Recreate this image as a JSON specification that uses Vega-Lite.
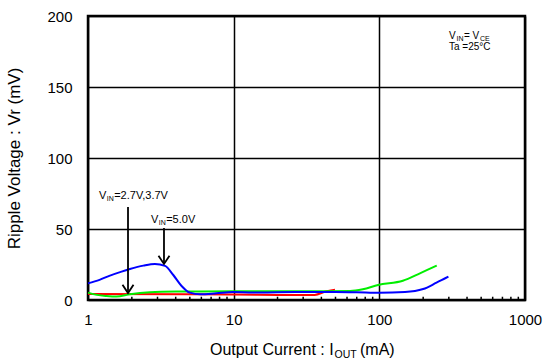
{
  "$schema": "https://vega.github.io/schema/vega-lite/v6.json",
  "width": 437,
  "height": 284,
  "autosize": {"type": "none"},
  "padding": {"left": 88, "top": 16, "right": 20, "bottom": 64},
  "background": "white",
  "config": {
    "view": {"stroke": "black", "strokeWidth": 2.5},
    "font": "Liberation Sans",
    "text": {"font": "Liberation Sans", "color": "black"}
  },
  "datasets": {
    "curves": [
      {"series": "VIN=2.7V", "current": 1, "ripple": 4.2},
      {"series": "VIN=2.7V", "current": 5, "ripple": 4.0},
      {"series": "VIN=2.7V", "current": 10, "ripple": 3.8},
      {"series": "VIN=2.7V", "current": 20, "ripple": 3.6},
      {"series": "VIN=2.7V", "current": 36, "ripple": 3.6},
      {"series": "VIN=2.7V", "current": 42.8, "ripple": 6.0},
      {"series": "VIN=2.7V", "current": 49.6, "ripple": 7.3},
      {"series": "VIN=3.7V", "current": 1, "ripple": 5.2},
      {"series": "VIN=3.7V", "current": 1.15, "ripple": 3.6},
      {"series": "VIN=3.7V", "current": 1.34, "ripple": 2.8},
      {"series": "VIN=3.7V", "current": 1.57, "ripple": 2.4},
      {"series": "VIN=3.7V", "current": 1.94, "ripple": 4.0},
      {"series": "VIN=3.7V", "current": 2.66, "ripple": 5.4},
      {"series": "VIN=3.7V", "current": 4, "ripple": 5.9},
      {"series": "VIN=3.7V", "current": 10, "ripple": 6.1},
      {"series": "VIN=3.7V", "current": 30, "ripple": 6.2},
      {"series": "VIN=3.7V", "current": 63, "ripple": 6.3},
      {"series": "VIN=3.7V", "current": 77, "ripple": 7.5},
      {"series": "VIN=3.7V", "current": 98, "ripple": 10.6},
      {"series": "VIN=3.7V", "current": 145, "ripple": 13.6},
      {"series": "VIN=3.7V", "current": 190, "ripple": 18.8},
      {"series": "VIN=3.7V", "current": 248, "ripple": 24.2},
      {"series": "VIN=5.0V", "current": 1, "ripple": 11.7},
      {"series": "VIN=5.0V", "current": 1.2, "ripple": 14.2},
      {"series": "VIN=5.0V", "current": 1.4, "ripple": 17},
      {"series": "VIN=5.0V", "current": 1.7, "ripple": 20},
      {"series": "VIN=5.0V", "current": 1.94, "ripple": 21.8},
      {"series": "VIN=5.0V", "current": 2.4, "ripple": 24.2},
      {"series": "VIN=5.0V", "current": 2.88, "ripple": 25.4},
      {"series": "VIN=5.0V", "current": 3.38, "ripple": 24.0},
      {"series": "VIN=5.0V", "current": 3.85, "ripple": 17.6},
      {"series": "VIN=5.0V", "current": 4.39, "ripple": 9.9},
      {"series": "VIN=5.0V", "current": 5.0, "ripple": 5.2},
      {"series": "VIN=5.0V", "current": 5.9, "ripple": 4.0},
      {"series": "VIN=5.0V", "current": 7.6, "ripple": 4.7},
      {"series": "VIN=5.0V", "current": 9.9, "ripple": 5.6},
      {"series": "VIN=5.0V", "current": 13.6, "ripple": 5.2},
      {"series": "VIN=5.0V", "current": 20, "ripple": 5.5},
      {"series": "VIN=5.0V", "current": 30, "ripple": 5.6},
      {"series": "VIN=5.0V", "current": 50, "ripple": 5.7},
      {"series": "VIN=5.0V", "current": 70, "ripple": 5.5},
      {"series": "VIN=5.0V", "current": 100, "ripple": 5.1},
      {"series": "VIN=5.0V", "current": 150, "ripple": 5.6},
      {"series": "VIN=5.0V", "current": 200, "ripple": 7.7},
      {"series": "VIN=5.0V", "current": 247, "ripple": 12.2},
      {"series": "VIN=5.0V", "current": 298, "ripple": 16.4}
    ],
    "minor": [
      {"current": 2}, {"current": 3}, {"current": 4}, {"current": 5}, {"current": 6}, {"current": 7}, {"current": 8}, {"current": 9},
      {"current": 20}, {"current": 30}, {"current": 40}, {"current": 50}, {"current": 60}, {"current": 70}, {"current": 80}, {"current": 90},
      {"current": 200}, {"current": 300}, {"current": 400}, {"current": 500}, {"current": 600}, {"current": 700}, {"current": 800}, {"current": 900}
    ],
    "arrows": [
      {"current": 1.882, "from": 65.5, "to": 4.9},
      {"current": 3.324, "from": 50.7, "to": 25.4}
    ],
    "notes": [
      {"kind": "main", "current": 1.19, "ripple": 71.1, "text": "V"},
      {"kind": "main", "current": 1.513, "ripple": 71.1, "text": "=2.7V,3.7V"},
      {"kind": "main", "current": 2.707, "ripple": 54.2, "text": "V"},
      {"kind": "main", "current": 3.442, "ripple": 54.2, "text": "=5.0V"},
      {"kind": "sub", "current": 1.346, "ripple": 70.0, "text": "IN"},
      {"kind": "sub", "current": 3.062, "ripple": 53.1, "text": "IN"},
      {"kind": "cond", "current": 300.8, "ripple": 183.5, "text": "V"},
      {"kind": "cond", "current": 381.3, "ripple": 183.5, "text": "= V"},
      {"kind": "cond", "current": 300.8, "ripple": 176.1, "text": "Ta =25°C"},
      {"kind": "condsub", "current": 338.7, "ripple": 182.4, "text": "IN"},
      {"kind": "condsub", "current": 491, "ripple": 182.4, "text": "CE"},
      {"kind": "title", "current": 6.88, "ripple": -38.7, "text": "Output Current : I"},
      {"kind": "title", "current": 73.7, "ripple": -38.7, "text": "(mA)"},
      {"kind": "titlesub", "current": 49.2, "ripple": -40.8, "text": "OUT"}
    ]
  },
  "layer": [
    {
      "data": {"name": "curves"},
      "mark": {"type": "line", "strokeWidth": 2, "interpolate": "monotone"},
      "encoding": {
        "x": {
          "field": "current", "type": "quantitative",
          "scale": {"type": "log", "domain": [1, 1000], "nice": false},
          "axis": {
            "values": [1, 10, 100, 1000], "format": "d", "title": null,
            "grid": true, "gridColor": "black", "gridWidth": 1.5, "gridOpacity": 1,
            "domain": false, "ticks": false, "tickSize": 0,
            "labelFontSize": 15, "labelPadding": 12, "labelFlush": false,
            "labelColor": "black", "labelFont": "Liberation Sans"
          }
        },
        "y": {
          "field": "ripple", "type": "quantitative",
          "scale": {"domain": [0, 200], "nice": false, "zero": false},
          "axis": {
            "values": [0, 50, 100, 150, 200], "title": "Ripple Voltage : Vr (mV)",
            "grid": true, "gridColor": "black", "gridWidth": 1.5, "gridOpacity": 1,
            "domain": false, "ticks": false, "tickSize": 0,
            "labelFontSize": 15, "labelPadding": 16, "labelColor": "black", "labelFont": "Liberation Sans",
            "titleFontSize": 17, "titleFontWeight": "normal", "titleColor": "black", "titleFont": "Liberation Sans",
            "titlePadding": 23
          }
        },
        "color": {
          "field": "series", "type": "nominal",
          "scale": {"domain": ["VIN=2.7V", "VIN=3.7V", "VIN=5.0V"], "range": ["#ff0000", "#00ee00", "#0000ff"]},
          "legend": null
        }
      }
    },
    {
      "data": {"name": "minor"},
      "mark": {"type": "rule", "color": "black", "strokeWidth": 1.5},
      "encoding": {
        "x": {"field": "current", "type": "quantitative", "scale": {"type": "log", "domain": [1, 1000], "nice": false}},
        "y": {"datum": 0, "type": "quantitative", "scale": {"domain": [0, 200], "nice": false, "zero": false}},
        "y2": {"datum": 2.3}
      }
    },
    {
      "data": {"name": "arrows"},
      "mark": {"type": "rule", "color": "black", "strokeWidth": 1.8},
      "encoding": {
        "x": {"field": "current", "type": "quantitative", "scale": {"type": "log", "domain": [1, 1000], "nice": false}},
        "y": {"field": "from", "type": "quantitative", "scale": {"domain": [0, 200], "nice": false, "zero": false}},
        "y2": {"field": "to"}
      }
    },
    {
      "data": {"name": "arrows"},
      "mark": {"type": "point", "shape": "M-1,-1.5L0,0L1,-1.5", "filled": false, "color": "black", "strokeWidth": 1.8, "size": 121, "opacity": 1},
      "encoding": {
        "x": {"field": "current", "type": "quantitative", "scale": {"type": "log", "domain": [1, 1000], "nice": false}},
        "y": {"field": "to", "type": "quantitative", "scale": {"domain": [0, 200], "nice": false, "zero": false}}
      }
    },
    {
      "data": {"name": "notes"},
      "transform": [{"filter": "datum.kind === 'main'"}],
      "mark": {"type": "text", "align": "left", "baseline": "alphabetic", "fontSize": 11},
      "encoding": {
        "x": {"field": "current", "type": "quantitative", "scale": {"type": "log", "domain": [1, 1000], "nice": false}},
        "y": {"field": "ripple", "type": "quantitative", "scale": {"domain": [0, 200], "nice": false, "zero": false}},
        "text": {"field": "text"}
      }
    },
    {
      "data": {"name": "notes"},
      "transform": [{"filter": "datum.kind === 'sub'"}],
      "mark": {"type": "text", "align": "left", "baseline": "alphabetic", "fontSize": 7},
      "encoding": {
        "x": {"field": "current", "type": "quantitative", "scale": {"type": "log", "domain": [1, 1000], "nice": false}},
        "y": {"field": "ripple", "type": "quantitative", "scale": {"domain": [0, 200], "nice": false, "zero": false}},
        "text": {"field": "text"}
      }
    },
    {
      "data": {"name": "notes"},
      "transform": [{"filter": "datum.kind === 'cond'"}],
      "mark": {"type": "text", "align": "left", "baseline": "alphabetic", "fontSize": 10},
      "encoding": {
        "x": {"field": "current", "type": "quantitative", "scale": {"type": "log", "domain": [1, 1000], "nice": false}},
        "y": {"field": "ripple", "type": "quantitative", "scale": {"domain": [0, 200], "nice": false, "zero": false}},
        "text": {"field": "text"}
      }
    },
    {
      "data": {"name": "notes"},
      "transform": [{"filter": "datum.kind === 'condsub'"}],
      "mark": {"type": "text", "align": "left", "baseline": "alphabetic", "fontSize": 7},
      "encoding": {
        "x": {"field": "current", "type": "quantitative", "scale": {"type": "log", "domain": [1, 1000], "nice": false}},
        "y": {"field": "ripple", "type": "quantitative", "scale": {"domain": [0, 200], "nice": false, "zero": false}},
        "text": {"field": "text"}
      }
    },
    {
      "data": {"name": "notes"},
      "transform": [{"filter": "datum.kind === 'title'"}],
      "mark": {"type": "text", "align": "left", "baseline": "alphabetic", "fontSize": 16},
      "encoding": {
        "x": {"field": "current", "type": "quantitative", "scale": {"type": "log", "domain": [1, 1000], "nice": false}},
        "y": {"field": "ripple", "type": "quantitative", "scale": {"domain": [0, 200], "nice": false, "zero": false}},
        "text": {"field": "text"}
      }
    },
    {
      "data": {"name": "notes"},
      "transform": [{"filter": "datum.kind === 'titlesub'"}],
      "mark": {"type": "text", "align": "left", "baseline": "alphabetic", "fontSize": 10.5},
      "encoding": {
        "x": {"field": "current", "type": "quantitative", "scale": {"type": "log", "domain": [1, 1000], "nice": false}},
        "y": {"field": "ripple", "type": "quantitative", "scale": {"domain": [0, 200], "nice": false, "zero": false}},
        "text": {"field": "text"}
      }
    }
  ]
}
